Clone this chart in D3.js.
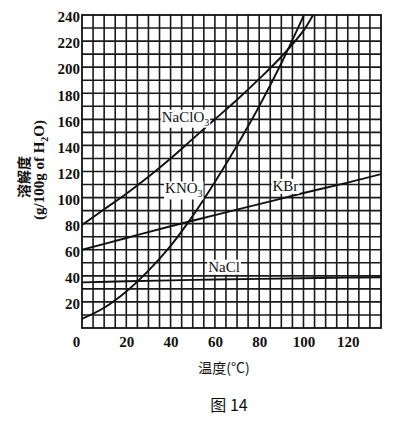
<!DOCTYPE html>
<html>
<head>
<meta charset="utf-8">
<script src="https://cdn.jsdelivr.net/npm/d3@7.9.0/dist/d3.min.js"></script>
<style>
  html, body { margin: 0; padding: 0; background: #fff; }
  svg { display: block; }
  .tick-label { font-family: "Liberation Serif", "DejaVu Serif", serif; font-weight: bold; font-size: 15px; fill: #111; }
  .curve-label { font-family: "Liberation Serif", "DejaVu Serif", serif; font-size: 15px; fill: #111; }
  .cjk { font-family: "Noto Sans CJK SC", sans-serif; fill: #111; }
</style>
</head>
<body>
<svg id="chart" width="409" height="421"></svg>
<script>
// solubility curves (g / 100 g water)
const naclo3Temp = [0, 10, 20, 30, 40, 50, 60, 70, 80, 90, 100, 104.3];
const naclo3Sol = [79, 91, 103, 116, 130, 145, 160, 175, 191, 208, 228, 240];

const kno3Temp = [0, 10, 20, 30, 40, 50, 60, 70, 80, 90, 100.5];
const kno3Sol = [7, 15.5, 28, 44, 63, 86, 112, 140, 170, 203, 241];

const kbrTemp = [0, 20, 40, 60, 80, 100, 120, 135];
const kbrSol = [60, 69, 78, 86.5, 95, 103.5, 111.5, 118];

const naclTemp = [0, 20, 40, 60, 80, 100, 120, 135];
const naclSol = [35, 35.8, 36.5, 37.2, 37.7, 38.2, 38.6, 38.9];

const xTicks = [0, 20, 40, 60, 80, 100, 120];
const yTicks = [20, 40, 60, 80, 100, 120, 140, 160, 180, 200, 220, 240];

const margin = { left: 82, right: 28, top: 15, bottom: 93 };
const width = 409, height = 421;

const svg = d3.select('#chart');

const x = d3.scaleLinear().domain([0, 135]).range([margin.left, width - margin.right]);
const y = d3.scaleLinear().domain([0, 240]).range([height - margin.bottom, margin.top]);

// grid: every 5 °C and every 10 g
const grid = svg.append('g').attr('stroke', '#1a1a1a').attr('stroke-width', 1.6);
d3.range(5, 135, 5).forEach(t => {
  grid.append('line')
    .attr('x1', x(t)).attr('x2', x(t))
    .attr('y1', y(0)).attr('y2', y(240));
});
d3.range(10, 240, 10).forEach(s => {
  grid.append('line')
    .attr('x1', x(0)).attr('x2', x(135))
    .attr('y1', y(s)).attr('y2', y(s));
});

svg.append('rect')
  .attr('x', x(0)).attr('y', y(240))
  .attr('width', x(135) - x(0)).attr('height', y(0) - y(240))
  .attr('fill', 'none').attr('stroke', '#111').attr('stroke-width', 1.8);

svg.append('clipPath').attr('id', 'plot-clip')
  .append('rect')
  .attr('x', x(0)).attr('y', y(240))
  .attr('width', x(135) - x(0)).attr('height', y(0) - y(240));

const line = d3.line()
  .x(d => x(d[0]))
  .y(d => y(d[1]))
  .curve(d3.curveCatmullRom.alpha(0.5));

const series = [
  [naclo3Temp, naclo3Sol],
  [kno3Temp, kno3Sol],
  [kbrTemp, kbrSol],
  [naclTemp, naclSol]
];

const curves = svg.append('g').attr('clip-path', 'url(#plot-clip)');
series.forEach(([temps, sols]) => {
  curves.append('path')
    .datum(d3.zip(temps, sols))
    .attr('d', line)
    .attr('fill', 'none')
    .attr('stroke', '#111')
    .attr('stroke-width', 1.9);
});

// curve labels sit on white patches over the grid
const labels = [
  { name: 'NaClO', sub: '3', t: 36, s: 162 },
  { name: 'KNO', sub: '3', t: 37.5, s: 107 },
  { name: 'KBr', sub: '', t: 86, s: 109 },
  { name: 'NaCl', sub: '', t: 57, s: 47 }
];

labels.forEach(d => {
  const g = svg.append('g');
  const bg = g.append('rect').attr('fill', '#fff');
  const txt = g.append('text')
    .attr('class', 'curve-label')
    .attr('x', x(d.t))
    .attr('y', y(d.s) + 5);
  txt.append('tspan').text(d.name);
  if (d.sub) {
    txt.append('tspan').attr('dy', 4).attr('font-size', 10).text(d.sub);
  }
  const b = txt.node().getBBox();
  bg.attr('x', b.x - 1).attr('y', b.y + 1)
    .attr('width', b.width + 2).attr('height', b.height - 1);
});

// axes: labels only, no tick marks
const yAxis = svg.append('g')
  .attr('transform', `translate(${margin.left - 2},0)`)
  .call(d3.axisLeft(y).tickValues(yTicks).tickSize(0).tickPadding(0));
yAxis.select('.domain').remove();
yAxis.attr('font-family', null).attr('font-size', null);
yAxis.selectAll('text')
  .attr('class', 'tick-label')
  .attr('fill', null)
  .attr('dy', '0.45em');

const xAxis = svg.append('g')
  .attr('transform', `translate(0,${height - margin.bottom})`)
  .call(d3.axisBottom(x).tickValues(xTicks).tickSize(0).tickPadding(8));
xAxis.select('.domain').remove();
xAxis.attr('font-family', null).attr('font-size', null);
xAxis.selectAll('text')
  .attr('class', 'tick-label')
  .attr('fill', null)
  .attr('dy', '0.75em')
  .attr('dx', d => d === 0 ? -6 : 0);

// axis titles
svg.append('text')
  .attr('class', 'cjk')
  .attr('x', 224).attr('y', 373)
  .attr('text-anchor', 'middle')
  .attr('font-size', 14)
  .text('温度(°C)');

const yTitle = svg.append('g');
yTitle.append('text')
  .attr('class', 'cjk')
  .attr('transform', 'translate(29,177) rotate(-90)')
  .attr('text-anchor', 'middle')
  .attr('font-size', 14)
  .attr('font-weight', 'bold')
  .text('溶解度');

const unit = yTitle.append('text')
  .attr('class', 'tick-label')
  .attr('transform', 'translate(44,170) rotate(-90)')
  .attr('text-anchor', 'middle')
  .attr('font-size', 14);
unit.append('tspan').text('(g/100g of H');
unit.append('tspan').attr('dy', 4).attr('font-size', 10).text('2');
unit.append('tspan').attr('dy', -4).text('O)');

svg.append('text')
  .attr('class', 'cjk')
  .attr('x', 229).attr('y', 411)
  .attr('text-anchor', 'middle')
  .attr('font-size', 16)
  .text('图 14');
</script>
</body>
</html>
